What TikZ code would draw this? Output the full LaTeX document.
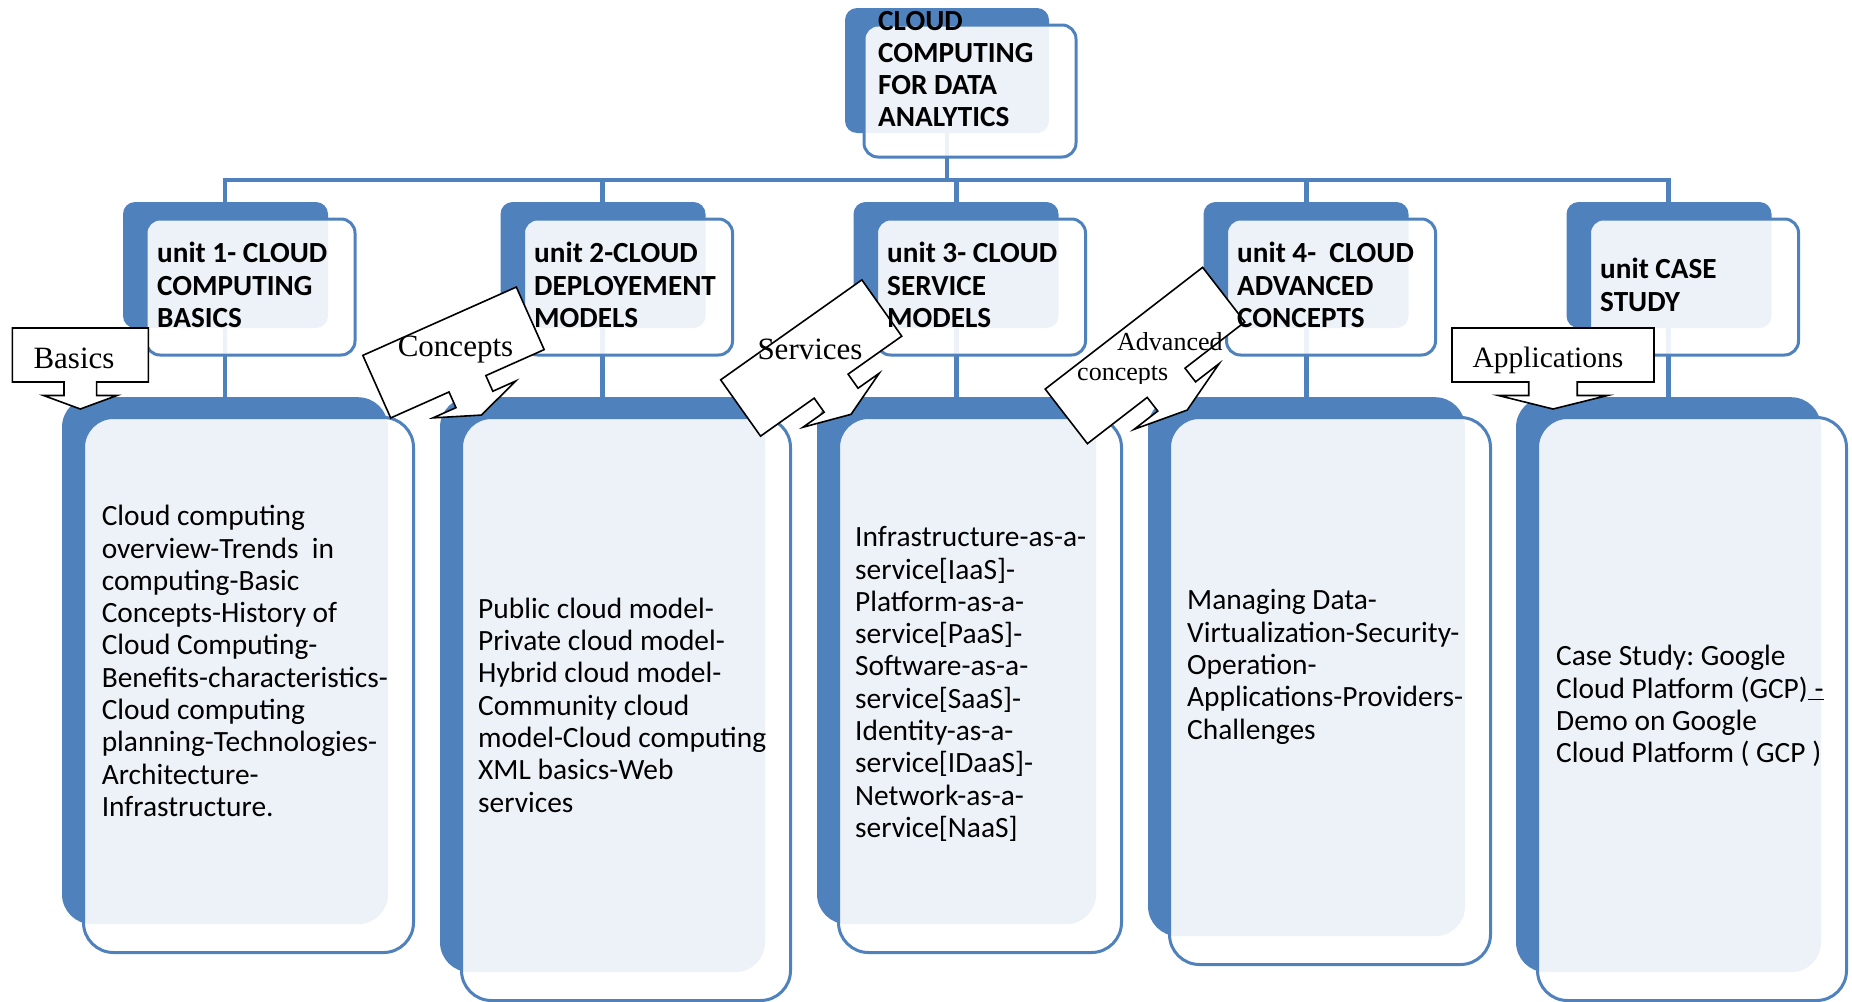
\documentclass[tikz,border=0pt]{standalone}
\usepackage{fontspec}
\setmainfont{Carlito}
\newfontfamily\tagfont{Liberation Serif}
\usetikzlibrary{backgrounds}
\definecolor{accent}{HTML}{4F81BD}
\tikzset{
  link/.style={draw=accent, line width=4.5pt},
  backbox/.style={rectangle, fill=accent, inner sep=0pt, rounded corners=12pt},
  frontbox/.style={rectangle, draw=accent, line width=3pt, fill=white, fill opacity=0.9, inner sep=0pt, rounded corners=14pt},
  boxtext/.style={align=left, inner sep=0pt, anchor=west, font=\frenchspacing\fontsize{29.4}{32.3}\selectfont},
  headtext/.style={boxtext, font=\bfseries\fontsize{29.2}{32.3}\selectfont},
  callout/.style={draw=black, fill=white, line width=1.6pt, line join=miter},
  tag/.style={inner sep=0pt, font=\tagfont\fontsize{31}{34}\selectfont}
}
\newcommand{\arrowcallout}[4]{%
  \begin{scope}[shift={#1}, rotate=#2]
    \draw[callout] (-#3/2,-#4/2) -- (#3/2,-#4/2) -- (#3/2,#4/2)
      -- (0.12*#3,#4/2) -- (0.12*#3,0.75*#4) -- (0.27*#3,0.75*#4)
      -- (0,#4) -- (-0.27*#3,0.75*#4) -- (-0.12*#3,0.75*#4)
      -- (-0.12*#3,#4/2) -- (-#3/2,#4/2) -- cycle;
  \end{scope}}

\begin{document}
\begin{tikzpicture}[x=1pt, y=-1pt]
  \useasboundingbox (0,0) rectangle (1852,1001);
  \coordinate (bus) at (0,180);

  \node[backbox, minimum width=204pt, minimum height=125pt] (rootb) at (947,70.5) {};
  \node[frontbox, minimum width=212pt, minimum height=132pt] (rootf) at (970,91) {};

  \foreach \n/\x in {1/225.5, 2/603, 3/956, 4/1306, 5/1669} {
    \node[backbox, minimum width=205pt, minimum height=126pt] (unitb\n) at (\x,265) {};
    \node[frontbox, minimum width=209pt, minimum height=136pt] (unitf\n) at ([shift={(25,22)}]unitb\n.center) {};
  }

  \foreach \n/\x/\w/\h in {1/225/326/527, 2/602.5/325/575, 3/956.5/279/527, 4/1306.5/317/539, 5/1668.5/305/575} {
    \node[backbox, rounded corners=30pt, minimum width=\w pt, minimum height=\h pt, anchor=north] (topicb\n) at (\x,397) {};
    \node[frontbox, rounded corners=30pt, minimum width=\w pt+4pt, minimum height=\h pt+8pt, anchor=north] (topicf\n) at ([shift={(23.5,19)}]topicb\n.north) {};
  }

  \begin{scope}[on background layer]
    \draw[link] (rootb) -- (rootb |- bus);
    \draw[link] (topicb1.north) -- (topicb1 |- bus) -- (topicb5 |- bus) -- (topicb5.north);
    \foreach \n in {2,3,4} \draw[link] (topicb\n |- bus) -- (topicb\n.north);
  \end{scope}

  \arrowcallout{(80.3,355)}{0}{136}{54}
  \arrowcallout{(453.5,352.5)}{24}{168}{68.5}
  \arrowcallout{(811.2,358)}{35.3}{173}{69}
  \arrowcallout{(1145,355.5)}{37.7}{199}{69}
  \arrowcallout{(1553,355)}{0}{202}{54}

  \node[headtext] (root) at (878,69) {CLOUD\\COMPUTING\\FOR DATA\\ANALYTICS};
  \node[headtext] (unit1) at (157,285) {unit 1- CLOUD\\COMPUTING\\BASICS};
  \node[headtext] (unit2) at (534,285) {unit 2-CLOUD\\DEPLOYEMENT\\MODELS};
  \node[headtext] (unit3) at (887,285) {unit 3- CLOUD\\SERVICE\\MODELS};
  \node[headtext] (unit4) at (1237,285) {unit 4-\ \ CLOUD\\ADVANCED\\CONCEPTS};
  \node[headtext] (unit5) at (1600,285) {unit CASE\\STUDY};

  \node[boxtext] (topic1) at (101.6,661) {Cloud computing\\overview-Trends\ \ in\\computing-Basic\\Concepts-History of\\Cloud Computing-\\Benefits-characteristics-\\Cloud computing\\planning-Technologies-\\Architecture-\\Infrastructure.};
  \node[boxtext] (topic2) at (478,705) {Public cloud model-\\Private cloud model-\\Hybrid cloud model-\\Community cloud\\model-Cloud computing\\XML basics-Web\\services};
  \node[boxtext] (topic3) at (855,684) {Infrastructure-as-a-\\service[IaaS]-\\Platform-as-a-\\service[PaaS]-\\Software-as-a-\\service[SaaS]-\\Identity-as-a-\\service[IDaaS]-\\Network-as-a-\\service[NaaS]};
  \node[boxtext] (topic4) at (1187,667) {Managing Data-\\Virtualization-Security-\\Operation-\\Applications-Providers-\\Challenges};
  \node[boxtext] (topic5) at (1556,706) {Case Study: Google\\Cloud Platform (GCP)\underline{\ -}\\Demo on Google\\Cloud Platform ( GCP )};

  \node[tag] (basics) at (74,358) {Basics};
  \node[tag] (concepts) at (455.5,350) {Concepts};
  \node[tag] (services) at (810,349.5) {Services};
  \begin{scope}
    \clip (1030,300) rectangle (1260,383);
    \node[tag, font=\tagfont\fontsize{26}{30}\selectfont, align=left, anchor=north west] (advanced) at (1077,332) {\hspace*{40pt}Advanced\\concepts};
  \end{scope}
  \node[tag, font=\tagfont\fontsize{29.5}{34}\selectfont] (applications) at (1548,360) {Applications};
\end{tikzpicture}
\end{document}
